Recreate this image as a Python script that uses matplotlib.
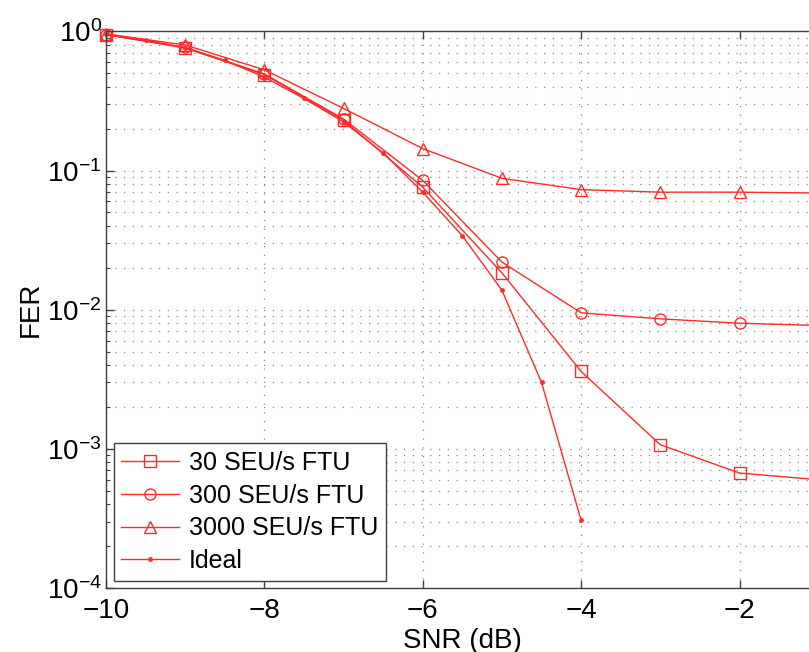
import numpy as np
import matplotlib
matplotlib.use('Agg')
import matplotlib.pyplot as plt
from matplotlib.ticker import LogLocator, NullFormatter

plt.rcParams['font.family'] = ['Liberation Sans', 'DejaVu Sans']
plt.rcParams['mathtext.default'] = 'regular'

# SNR (dB) points
snr_ftu = [-10, -9, -8, -7, -6, -5, -4, -3, -2, -1]
snr_ideal = [-10, -9.5, -9, -8.5, -8, -7.5, -7, -6.5, -6, -5.5, -5, -4.5, -4]

# FER values
fer_30 = [0.95, 0.76, 0.49, 0.23, 0.076, 0.0184, 0.0036, 0.00107, 0.00067, 0.00060]
fer_300 = [0.95, 0.77, 0.495, 0.235, 0.085, 0.022, 0.0095, 0.0086, 0.0080, 0.0077]
fer_3000 = [0.96, 0.80, 0.53, 0.28, 0.144, 0.088, 0.073, 0.070, 0.070, 0.069]
fer_ideal = [0.96, 0.87, 0.76, 0.62, 0.47, 0.33, 0.224, 0.134, 0.070, 0.034, 0.0138, 0.0030, 0.000306]

labels = ['30 SEU/s FTU', '300 SEU/s FTU', '3000 SEU/s FTU', 'Ideal']

red = '#ff2a2a'
fig = plt.figure(figsize=(8.09, 6.52), dpi=100)
ax = fig.add_axes([0.131, 0.0982, 0.881, 0.8535])

ax.semilogy(snr_ftu, fer_30, '-s', color=red, lw=1.0, ms=8, mfc='none', mew=1.0, label=labels[0], clip_on=False)
ax.semilogy(snr_ftu, fer_300, '-o', color=red, lw=1.0, ms=8, mfc='none', mew=1.0, label=labels[1], clip_on=False)
ax.semilogy(snr_ftu, fer_3000, '-^', color=red, lw=1.0, ms=9, mfc='none', mew=1.0, label=labels[2], clip_on=False)
ax.semilogy(snr_ideal, fer_ideal, '-o', color=red, lw=1.0, ms=3.5, mfc=red, mew=0, label=labels[3], clip_on=False)

ax.set_xlim(-10, -1)
ax.set_ylim(1e-4, 1)
ax.set_xticks([-10, -8, -6, -4, -2])
ax.yaxis.set_major_locator(LogLocator(base=10, numticks=10))
ax.yaxis.set_minor_locator(LogLocator(base=10, subs=np.arange(2, 10), numticks=20))
ax.yaxis.set_minor_formatter(NullFormatter())

dots = (0, (1, 6))
ax.grid(True, which='major', ls=dots, color='#8a8a8a', lw=0.9)
ax.grid(True, which='minor', axis='y', ls=dots, color='#8a8a8a', lw=0.9)

ax.tick_params(which='both', direction='in', top=True, right=True, labelsize=20, colors='#404040', labelcolor='black')
ax.tick_params(which='major', length=6, width=1)
ax.tick_params(axis='y', which='major', pad=3)
ax.tick_params(axis='x', which='major', pad=7)
ax.tick_params(which='minor', length=3, width=0.8)
for s in ax.spines.values():
    s.set_color('#404040')
    s.set_linewidth(1.0)

ax.set_xlabel('SNR (dB)', fontsize=20, labelpad=3)
ax.set_ylabel('FER', fontsize=20, labelpad=2)

leg = ax.legend(loc='lower left', bbox_to_anchor=(0.011, 0.013), borderaxespad=0,
                fontsize=18, fancybox=False, framealpha=1, edgecolor='#404040',
                handlelength=2.3, labelspacing=0.35, borderpad=0.3, handletextpad=0.4)
leg.get_frame().set_linewidth(1.0)

fig.savefig('out.png', dpi=100)
